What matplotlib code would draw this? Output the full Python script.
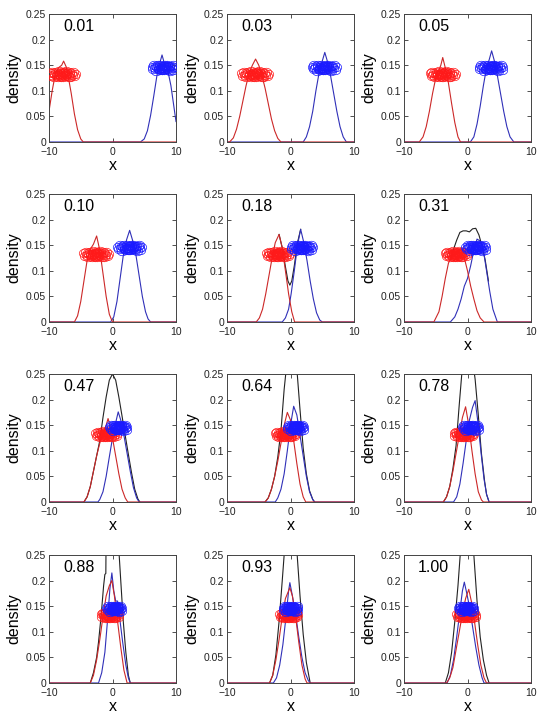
import math
import matplotlib.pyplot as plt

plt.rcParams['font.family'] = ['Liberation Sans', 'DejaVu Sans']

labels = ['0.01', '0.03', '0.05', '0.10', '0.18', '0.31',
          '0.47', '0.64', '0.78', '0.88', '0.93', '1.00']

# red component density, one list per panel
red_x = [
    [-10, -9.5, -9, -8.5, -8, -7.7, -7.3, -7, -6.5, -6, -5.5, -5, -4.6],
    [-9.6, -9, -8.5, -8, -7.5, -7, -6.5, -6, -5.5, -5, -4.5, -4, -3.5, -3, -2.5, -2, -1.5],
    [-7.6, -7, -6.5, -6, -5.5, -5, -4.5, -4.2, -3.9, -3.5, -3, -2.5, -2, -1.5, -1.1],
    [-6, -5.5, -5, -4.5, -4, -3.5, -3, -2.5, -2, -1.5, -1, -0.5, 0],
    [-5.4, -4.9, -4.4, -3.9, -3.4, -2.9, -2.4, -1.8, -1.3, -0.8, -0.3, 0.2, 0.65],
    [-5.3, -4.5, -4, -3.5, -3, -2.5, -2, -1.5, -1, -0.5, 0, 0.5, 1, 1.5, 2, 2.6],
    [-4.5, -4, -3.5, -3, -2.5, -2, -1.5, -1, -0.7, -0.4, 0, 0.5, 1, 1.5, 2, 2.4],
    [-4, -3.5, -3, -2.5, -2, -1.5, -1, -0.5, 0, 0.5, 1, 1.5, 2, 2.4],
    [-3.8, -3.3, -2.8, -2.3, -1.8, -1.3, -0.8, -0.3, 0.2, 0.7, 1.2, 1.7, 2.2, 2.5],
    [-3.5, -3, -2.5, -2, -1.5, -1, -0.5, -0.1, 0.3, 0.8, 1.3, 1.8, 2.3],
    [-3.3, -2.8, -2.3, -1.8, -1.3, -0.8, -0.3, -0.1, 0.3, 0.8, 1.3, 1.8, 2.3, 2.6],
    [-3.3, -2.8, -2.3, -1.8, -1.3, -0.8, -0.3, 0.2, 0.6, 1.1, 1.6, 2.1, 2.6, 3.0],
]
red_y = [
    [0.06, 0.1, 0.133, 0.145, 0.15, 0.158, 0.147, 0.13, 0.095, 0.055, 0.024, 0.006, 0],
    [0, 0.008, 0.025, 0.05, 0.08, 0.11, 0.135, 0.15, 0.162, 0.15, 0.13, 0.105, 0.075, 0.045, 0.022, 0.007, 0],
    [0, 0.01, 0.03, 0.06, 0.095, 0.125, 0.14, 0.15, 0.165, 0.145, 0.115, 0.075, 0.038, 0.01, 0],
    [0, 0.012, 0.04, 0.08, 0.12, 0.142, 0.152, 0.168, 0.14, 0.095, 0.05, 0.015, 0],
    [0, 0.008, 0.025, 0.055, 0.09, 0.125, 0.155, 0.171, 0.145, 0.1, 0.055, 0.02, 0],
    [0, 0.02, 0.05, 0.085, 0.115, 0.128, 0.133, 0.138, 0.14, 0.125, 0.1, 0.07, 0.045, 0.022, 0.008, 0],
    [0, 0.01, 0.03, 0.06, 0.09, 0.115, 0.135, 0.15, 0.163, 0.15, 0.125, 0.09, 0.055, 0.025, 0.008, 0],
    [0, 0.008, 0.025, 0.05, 0.08, 0.115, 0.15, 0.175, 0.16, 0.12, 0.075, 0.035, 0.01, 0],
    [0, 0.01, 0.03, 0.06, 0.095, 0.13, 0.165, 0.186, 0.15, 0.1, 0.055, 0.02, 0.004, 0],
    [0, 0.015, 0.045, 0.085, 0.13, 0.17, 0.19, 0.2, 0.17, 0.12, 0.07, 0.025, 0],
    [0, 0.015, 0.045, 0.085, 0.13, 0.165, 0.18, 0.186, 0.17, 0.13, 0.08, 0.035, 0.008, 0],
    [0, 0.01, 0.03, 0.065, 0.1, 0.135, 0.165, 0.183, 0.16, 0.12, 0.075, 0.035, 0.01, 0],
]

# blue component density
blue_x = [
    [4.4, 5, 5.5, 6, 6.5, 7, 7.4, 7.8, 8.2, 8.7, 9.2, 9.6, 10],
    [2, 2.5, 3, 3.5, 4, 4.5, 5, 5.4, 5.8, 6.3, 6.8, 7.3, 7.8, 8.3, 8.8],
    [0.45, 1, 1.5, 2, 2.5, 3, 3.4, 3.8, 4.2, 4.7, 5.2, 5.7, 6.2, 6.7, 7.3],
    [-0.3, 0.2, 0.7, 1.2, 1.7, 2.2, 2.7, 3.2, 3.7, 4.2, 4.7, 5.2, 5.6, 6.0],
    [-1.3, -0.8, -0.3, 0.1, 0.6, 1.1, 1.6, 2.1, 2.6, 3.1, 3.6, 4.1, 4.6, 5.0],
    [-2.7, -2, -1.5, -1, -0.5, 0, 0.5, 1, 1.5, 2, 2.5, 3, 3.5, 4, 4.7],
    [-2.3, -2, -1.5, -1, -0.5, 0, 0.5, 0.9, 1.3, 1.8, 2.3, 2.8, 3.3, 3.8, 4.2],
    [-2.4, -2, -1.5, -1, -0.5, 0, 0.5, 1, 1.5, 2, 2.5, 3, 3.5, 3.8],
    [-2.2, -1.7, -1.2, -0.7, -0.2, 0.3, 0.8, 1.2, 1.6, 2.1, 2.6, 3.0, 3.4],
    [-2.2, -1.7, -1.2, -0.8, -0.4, -0.1, 0.2, 0.5, 0.8, 1.1, 1.6, 2.1, 2.5, 2.8],
    [-2.7, -2.2, -1.7, -1.2, -0.7, -0.3, -0.1, 0.3, 0.8, 1.3, 1.8, 2.3, 2.8, 3.1],
    [-3.2, -2.7, -2.2, -1.7, -1.2, -0.8, -0.5, -0.2, 0.3, 0.8, 1.3, 1.8, 2.3, 2.6],
]
blue_y = [
    [0, 0.006, 0.022, 0.052, 0.09, 0.13, 0.152, 0.17, 0.152, 0.14, 0.11, 0.075, 0.04],
    [0, 0.01, 0.03, 0.06, 0.1, 0.135, 0.158, 0.175, 0.158, 0.13, 0.095, 0.06, 0.03, 0.01, 0],
    [0, 0.01, 0.035, 0.07, 0.11, 0.145, 0.16, 0.178, 0.16, 0.13, 0.095, 0.06, 0.03, 0.01, 0],
    [0, 0.01, 0.04, 0.085, 0.13, 0.16, 0.179, 0.158, 0.13, 0.09, 0.05, 0.02, 0.006, 0],
    [0, 0.008, 0.025, 0.055, 0.1, 0.15, 0.181, 0.155, 0.12, 0.08, 0.045, 0.018, 0.004, 0],
    [0, 0.01, 0.025, 0.045, 0.07, 0.085, 0.11, 0.14, 0.162, 0.158, 0.14, 0.1, 0.06, 0.025, 0],
    [0, 0.005, 0.02, 0.05, 0.088, 0.125, 0.155, 0.176, 0.16, 0.13, 0.095, 0.06, 0.028, 0.008, 0],
    [0, 0.008, 0.025, 0.055, 0.1, 0.15, 0.187, 0.17, 0.13, 0.09, 0.05, 0.02, 0.005, 0],
    [0, 0.01, 0.035, 0.075, 0.12, 0.16, 0.185, 0.198, 0.16, 0.1, 0.045, 0.015, 0],
    [0, 0.02, 0.06, 0.12, 0.185, 0.215, 0.18, 0.16, 0.16, 0.13, 0.08, 0.035, 0.01, 0],
    [0, 0.01, 0.035, 0.075, 0.13, 0.18, 0.196, 0.17, 0.135, 0.09, 0.05, 0.02, 0.005, 0],
    [0, 0.015, 0.045, 0.09, 0.14, 0.18, 0.197, 0.18, 0.15, 0.11, 0.07, 0.035, 0.01, 0],
]

# total (mixture) density, only where it differs from the components
black_x = [
    [], [], [], [],
    [-1.8, -1.3, -0.8, -0.4, -0.1, 0.2, 0.6, 1.1, 1.6],
    [-2.7, -2.2, -1.7, -1.2, -0.7, -0.2, 0.3, 0.8, 1.3, 1.8, 2.3, 2.8, 3.3],
    [-4.5, -4, -3.5, -3, -2.5, -2, -1.5, -1, -0.5, 0, 0.5, 1, 1.5, 2, 2.5, 3, 3.5, 4, 4.3],
    [-4, -3.5, -3, -2.5, -2, -1.5, -1, -0.5, 0, 0.5, 1, 1.5, 2, 2.5, 3, 3.5, 3.8],
    [-3.8, -3.3, -2.8, -2.3, -1.8, -1.3, -0.8, -0.3, 0.2, 0.7, 1.2, 1.7, 2.2, 2.7, 3.0, 3.4],
    [-3.5, -3, -2.5, -2.2, -1.8, -1.4, -1.2, -1.05, -1.0, 0, 0.95, 1.0, 1.3, 1.7, 2.1, 2.5, 2.8],
    [-3.3, -2.8, -2.3, -1.8, -1.3, -1.0, -0.5, 0, 0.5, 1.05, 1.5, 2, 2.5, 3.1],
    [-3.5, -3, -2.5, -2, -1.5, -1.15, -0.5, 0, 0.5, 1.0, 1.5, 2, 2.5, 3, 3.4],
]
black_y = [
    [], [], [], [],
    [0.171, 0.145, 0.108, 0.08, 0.072, 0.08, 0.11, 0.155, 0.181],
    [0.122, 0.142, 0.16, 0.175, 0.178, 0.178, 0.176, 0.182, 0.183, 0.17, 0.148, 0.12, 0.08],
    [0, 0.01, 0.03, 0.06, 0.09, 0.12, 0.165, 0.205, 0.238, 0.25, 0.238, 0.205, 0.168, 0.13, 0.093, 0.057, 0.025, 0.006, 0],
    [0, 0.008, 0.025, 0.05, 0.088, 0.14, 0.22, 0.28, 0.31, 0.307, 0.26, 0.18, 0.105, 0.055, 0.022, 0.005, 0],
    [0, 0.01, 0.03, 0.065, 0.11, 0.19, 0.265, 0.306, 0.3, 0.285, 0.24, 0.17, 0.094, 0.04, 0.015, 0],
    [0, 0.02, 0.05, 0.08, 0.13, 0.19, 0.212, 0.214, 0.3, 0.32, 0.3, 0.26, 0.2, 0.12, 0.06, 0.015, 0],
    [0, 0.015, 0.055, 0.12, 0.2, 0.25, 0.31, 0.37, 0.32, 0.25, 0.17, 0.095, 0.04, 0],
    [0, 0.02, 0.06, 0.12, 0.19, 0.25, 0.36, 0.37, 0.32, 0.25, 0.16, 0.09, 0.045, 0.015, 0],
]

# sample clouds: centre and half-width per panel
red_cx = [-7.9, -5.6, -3.9, -2.6, -2.0, -1.8, -1.0, -0.8, -0.6, -0.4, -0.3, -0.2]
red_sx = [2.0, 2.1, 1.9, 1.9, 1.7, 1.6, 1.6, 1.5, 1.4, 1.3, 1.3, 1.4]
blue_cx = [8.0, 5.3, 3.7, 2.7, 1.8, 1.3, 0.9, 0.8, 0.5, 0.3, 0.0, -0.2]
blue_sx = [1.7, 1.8, 1.8, 1.8, 1.6, 1.5, 1.3, 1.2, 1.2, 1.1, 1.1, 1.1]
red_cy = 0.132
blue_cy = 0.145
cloud_h = 0.0065
cloud_dx = [-1.0, -0.93, -0.85, -0.78, -0.7, -0.64, -0.57, -0.5, -0.44, -0.38,
            -0.32, -0.27, -0.21, -0.16, -0.11, -0.06, -0.02, 0.02, 0.06, 0.1,
            0.15, 0.2, 0.25, 0.31, 0.37, 0.43, 0.49, 0.56, 0.63, 0.7,
            0.78, 0.86, 0.94, 1.0, -0.4, 0.3, -0.1, 0.12, -0.25, 0.5]
cloud_dy = [0.3, -0.5, 0.8, -0.2, 0.5, -0.9, 0.1, 0.7, -0.4, 0.2,
            -0.7, 0.9, -0.1, 0.4, -0.6, 0.0, 0.6, -0.3, -0.8, 0.3,
            0.8, -0.5, 0.1, -0.2, 0.5, -0.4, 0.2, 0.6, -0.9, 0.4,
            -0.1, 0.7, -0.6, 0.1, -0.3, 0.9, -0.8, 0.5, 0.0, -0.7]

yticks = [0, 0.05, 0.1, 0.15, 0.2, 0.25]
ytick_labels = ['0', '0.05', '0.1', '0.15', '0.2', '0.25']
xticks = [-10, 0, 10]
xtick_labels = ['\u221210', '0', '10']

# slightly flattened open circle used as marker
ring = [(math.cos(k / 20 * 2 * math.pi), 0.82 * math.sin(k / 20 * 2 * math.pi))
        for k in range(21)]


def pad(xs, ys):
    xs, ys = list(xs), list(ys)
    if xs[0] > -10:
        xs, ys = [-10] + xs, [0] + ys
    if xs[-1] < 10:
        xs, ys = xs + [10], ys + [0]
    return xs, ys


W, H = 542, 717
fig = plt.figure(figsize=(W / 100, H / 100), dpi=100)
lefts = [49, 227, 404]
tops = [14, 194, 374, 555]
aw, ah = 127, 128

for i in range(12):
    r, c = divmod(i, 3)
    ax = fig.add_axes([lefts[c] / W, 1 - (tops[r] + ah) / H, aw / W, ah / H])

    # sample clouds
    rxs = [red_cx[i] + red_sx[i] * d for d in cloud_dx]
    rys = [red_cy + cloud_h * d for d in cloud_dy]
    bxs = [blue_cx[i] + blue_sx[i] * d for d in cloud_dx[::-1]]
    bys = [blue_cy + cloud_h * d for d in cloud_dy[::-1]]
    ax.plot(rxs, rys, ls='none', marker=ring, ms=7.5, mfc='none', mec='#ff1a1a', mew=0.5, zorder=3)
    ax.plot(bxs, bys, ls='none', marker=ring, ms=7.5, mfc='none', mec='#1a1aff', mew=0.5, zorder=3)

    # densities
    if black_x[i]:
        ax.plot(black_x[i], black_y[i], color='#222222', lw=0.8, zorder=2)
    bx, by = pad(blue_x[i], blue_y[i])
    ax.plot(bx, by, color='#3030b8', lw=0.8, zorder=2)
    rx, ry = pad(red_x[i], red_y[i])
    ax.plot(rx, ry, color='#cc2828', lw=0.8, zorder=2)

    ax.text(0.11, 0.905, labels[i], transform=ax.transAxes, fontsize=11.5,
            va='center', ha='left', zorder=5)

    ax.set_xlim(-10, 10)
    ax.set_ylim(0, 0.25)
    ax.set_xticks(xticks)
    ax.set_xticklabels(xtick_labels)
    ax.set_yticks(yticks)
    ax.set_yticklabels(ytick_labels)
    ax.tick_params(direction='in', length=3, width=0.6, labelsize=7.5,
                   top=True, right=True, colors='#333333',
                   labelcolor='#222222')
    ax.tick_params(axis='x', pad=3.5)
    ax.tick_params(axis='y', pad=2)
    for s in ax.spines.values():
        s.set_linewidth(0.7)
        s.set_color('#444444')
    ax.set_xlabel('x', fontsize=11.5, labelpad=1)
    ax.set_ylabel('density', fontsize=11.5, labelpad=3)

fig.savefig('out.png', dpi=100)
